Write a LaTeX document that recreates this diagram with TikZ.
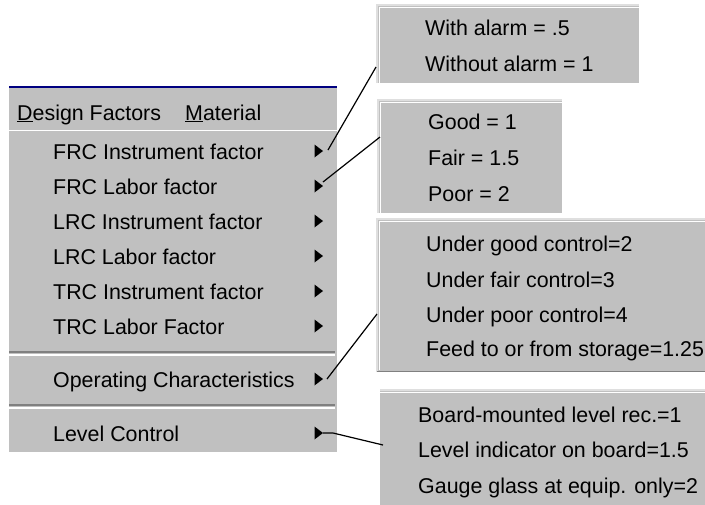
\documentclass[tikz,border=0pt]{standalone}
\usepackage{fontspec}
\setmainfont{Liberation Sans}
\usetikzlibrary{calc}
\definecolor{wingray}{HTML}{C0C0C0}
\definecolor{winlight}{HTML}{DFDFDF}
\definecolor{windark}{HTML}{808080}
\definecolor{winblue}{HTML}{000080}
\begin{document}
\begin{tikzpicture}[x=1pt,y=-1pt,
  panel/.style={fill=wingray, draw=none, anchor=north west, inner sep=0pt},
  txt/.style={anchor=base west, inner sep=0pt, font=\fontsize{21.4}{25}\selectfont},
  conn/.style={draw=black, line width=1.2pt},
  hilite/.style={draw=white, line width=1.5pt},
  edge/.style={draw=winlight, line width=1.5pt},
  shade/.style={draw=windark, line width=1.5pt}]
\useasboundingbox (0,0) rectangle (705,504);

% ---------- main menu ----------
\node[panel, minimum width=328, minimum height=365] (menu) at (9,87) {};
\draw[draw=winblue, line width=2pt] (menu.north west) -- (menu.north east);
\draw[hilite] (9,130.5) -- (337,130.5);
\draw[shade] (9,352) -- (335,352);
\draw[hilite] (9,355) -- (335,355);
\draw[shade] (9,405) -- (335,405);
\draw[hilite] (9,408) -- (335,408);

\node[txt] (bar1) at (17,120) {\underline{D}esign Factors};
\node[txt] (bar2) at (185,120) {\underline{M}aterial};

\node[txt] (m1) at (53,159) {FRC Instrument factor};
\node[txt] (m2) at (53,194) {FRC Labor factor};
\node[txt] (m3) at (53,229) {LRC Instrument factor};
\node[txt] (m4) at (53,264) {LRC Labor factor};
\node[txt] (m5) at (53,299) {TRC Instrument factor};
\node[txt] (m6) at (53,334) {TRC Labor Factor};
\node[txt] (m7) at (53,387) {Operating Characteristics};
\node[txt] (m8) at (53,441) {Level Control};

% arrow tips
\coordinate (a1) at (323,151);
\coordinate (a2) at (323,186);
\coordinate (a3) at (323,221);
\coordinate (a4) at (323,256);
\coordinate (a5) at (323,291);
\coordinate (a6) at (323,326);
\coordinate (a7) at (323,379);
\coordinate (a8) at (323,433);
\foreach \a in {a1,a2,a3,a4,a5,a6,a7,a8}
  \fill[black, shift={(\a)}] (0,0) -- (-8.5,-6.5) -- (-8.5,6.5) -- cycle;

% ---------- submenus ----------
\node[panel, minimum width=262, minimum height=78] (s1) at (377,5) {};
\draw[edge] (s1.south west) -- (s1.north west) -- (s1.north east);
\draw[hilite] ($(s1.south west)+(2.5,0)$) -- ($(s1.north west)+(2.5,2.5)$) -- ($(s1.north east)+(0,2.5)$);
\node[txt] (t11) at (425,35) {With alarm = .5};
\node[txt] (t12) at (425,71) {Without alarm = 1};

\node[panel, minimum width=184, minimum height=113] (s2) at (378,100) {};
\draw[edge] (s2.south west) -- (s2.north west) -- (s2.north east);
\draw[hilite] ($(s2.south west)+(2.5,0)$) -- ($(s2.north west)+(2.5,2.5)$) -- ($(s2.north east)+(0,2.5)$);
\node[txt] (t21) at (428,129) {Good = 1};
\node[txt] (t22) at (428,165) {Fair = 1.5};
\node[txt] (t23) at (428,201) {Poor = 2};

\node[panel, minimum width=330, minimum height=153] (s3) at (377,219) {};
\draw[edge] (s3.south west) -- (s3.north west) -- (s3.north east);
\draw[hilite] ($(s3.south west)+(2.5,-2)$) -- ($(s3.north west)+(2.5,2.5)$) -- ($(s3.north east)+(0,2.5)$);
\draw[shade] ($(s3.south west)+(0,-0.75)$) -- ($(s3.south east)+(0,-0.75)$);
\node[txt] (t31) at (426,251) {Under good control=2};
\node[txt] (t32) at (426,287) {Under fair control=3};
\node[txt] (t33) at (426,322) {Under poor control=4};
\node[txt] (t34) at (426,356) {Feed to or from storage=1.25};

\node[panel, minimum width=330, minimum height=120] (s4) at (380,390) {};
\draw[edge] (s4.north west) -- (s4.north east);
\draw[hilite] ($(s4.north west)+(0,2.5)$) -- ($(s4.north east)+(0,2.5)$);
\node[txt] (t41) at (418,422) {Board-mounted level rec.=1};
\node[txt] (t42) at (418,457) {Level indicator on board=1.5};
\node[txt] (t43) at (418,493) {Gauge glass at equip. only=2};

% ---------- connectors ----------
\coordinate (b1) at (328,150);
\coordinate (e1) at (376,67);
\coordinate (b2) at (323,182);
\coordinate (e2) at (380,137);
\coordinate (b3) at (327,379);
\coordinate (e3) at (377,314);
\coordinate (k4) at (333,433);
\coordinate (e4) at (383,445);
\draw[conn] (b1) -- (e1);
\draw[conn] (b2) -- (e2);
\draw[conn] (b3) -- (e3);
\draw[conn] (a8) -- (k4) -- (e4);
\end{tikzpicture}
\end{document}
